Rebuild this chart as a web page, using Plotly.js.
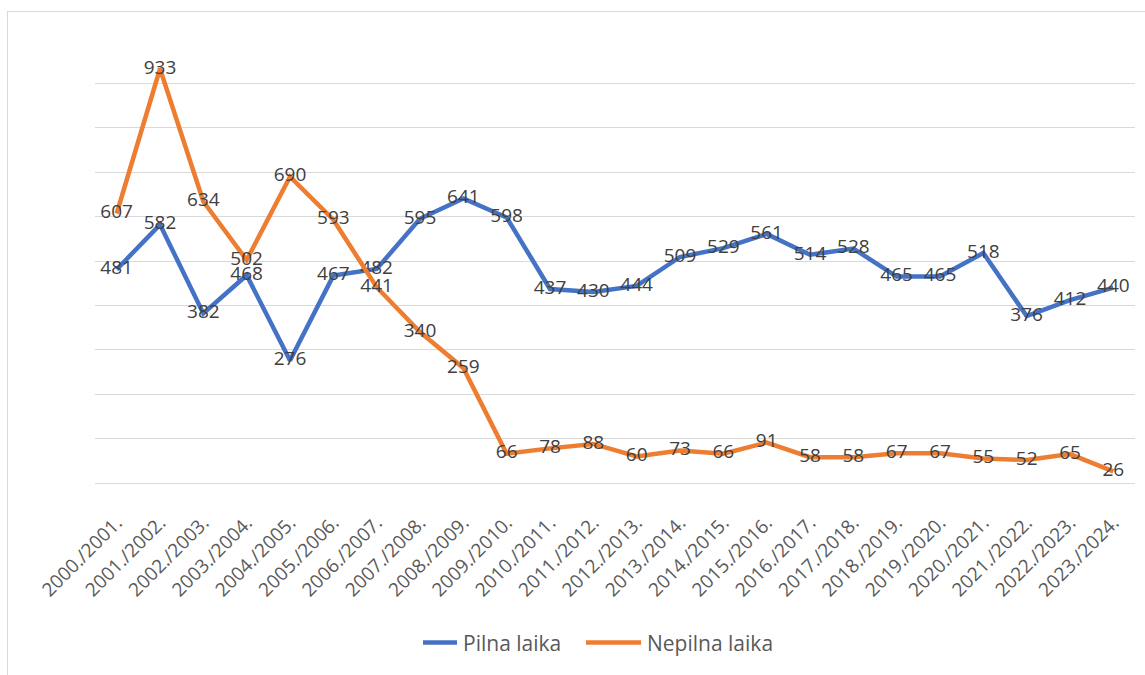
<!DOCTYPE html>
<html>
<head>
<meta charset="utf-8">
<script src="https://cdn.plot.ly/plotly-3.0.1.min.js"></script>
<style>
  body { margin: 0; overflow: hidden; background: #fff; }
  #chart { position: absolute; left: 0; top: 0; width: 1145px; height: 675px; }
  #frame { position: absolute; left: 7px; top: 11px; width: 1200px; height: 700px;
           border: 1px solid #d9d9d9; pointer-events: none; }
</style>
</head>
<body>
<div id="chart"></div>
<div id="frame"></div>
<script>
// mācību gadi
const gadi = [
  "2000./2001.", "2001./2002.", "2002./2003.", "2003./2004.", "2004./2005.", "2005./2006.",
  "2006./2007.", "2007./2008.", "2008./2009.", "2009./2010.", "2010./2011.", "2011./2012.",
  "2012./2013.", "2013./2014.", "2014./2015.", "2015./2016.", "2016./2017.", "2017./2018.",
  "2018./2019.", "2019./2020.", "2020./2021.", "2021./2022.", "2022./2023.", "2023./2024."
];
const pilnaLaika = [481, 582, 382, 468, 276, 467, 482, 595, 641, 598, 437, 430, 444, 509, 529, 561, 514, 528, 465, 465, 518, 376, 412, 440];
const nepilnaLaika = [607, 933, 634, 502, 690, 593, 441, 340, 259, 66, 78, 88, 60, 73, 66, 91, 58, 58, 67, 67, 55, 52, 65, 26];

const fonts = "Open Sans, Liberation Sans, sans-serif";

function serija(name, vertibas, krasa) {
  return {
    x: gadi,
    y: vertibas,
    name: name,
    type: "scatter",
    mode: "lines+text",
    line: { color: krasa, width: 4.5 },
    text: vertibas.map(String),
    textposition: "middle center",
    textfont: { family: fonts, size: 19, color: "#404040" },
    cliponaxis: false,
    hoverinfo: "x+y+name"
  };
}

const data = [
  serija("Pilna laika", pilnaLaika, "#4472C4"),
  serija("Nepilna laika", nepilnaLaika, "#ED7D31")
];

const layout = {
  width: 1145,
  height: 675,
  margin: { l: 95, r: 10, t: 39, b: 192 },
  paper_bgcolor: "#fff",
  plot_bgcolor: "#fff",
  showlegend: true,
  legend: {
    orientation: "h",
    x: 0.3154, xanchor: "left",
    y: -0.36, yanchor: "middle",
    font: { family: fonts, size: 21, color: "#595959" },
    entrywidth: 139,
    entrywidthmode: "pixels"
  },
  xaxis: {
    type: "category",
    range: [-0.5, gadi.length - 0.5],
    tickangle: -45,
    tickfont: { family: fonts, size: 19, color: "#595959" },
    ticklabelstandoff: 24,
    showgrid: false,
    showline: false,
    ticks: "",
    fixedrange: true
  },
  yaxis: {
    range: [0, 1000],
    dtick: 100,
    showticklabels: false,
    gridcolor: "#d9d9d9",
    gridwidth: 1,
    zeroline: true,
    zerolinecolor: "#d9d9d9",
    zerolinewidth: 1,
    ticks: "",
    fixedrange: true
  }
};

Plotly.newPlot("chart", data, layout, { displayModeBar: false, staticPlot: true }).then(function (gd) {
  // garākas līnijas leģendā, kā Excel
  gd.querySelectorAll(".legend .legendlines path").forEach(function (p) {
    p.setAttribute("d", "M-21,0h55");
  });
});
</script>
</body>
</html>
